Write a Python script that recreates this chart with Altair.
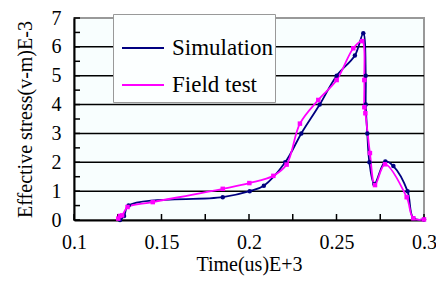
import altair as alt
import pandas as pd

# ---- data ----
series_names = ["Simulation", "Field test"]
series_colors = ["#000080", "#ff00ff"]
series_shapes = ["circle", "square"]

sim_t = [0.1263, 0.1286, 0.1312, 0.185, 0.2004, 0.2085, 0.2207, 0.2299, 0.2404, 0.2501,
         0.2605, 0.2653, 0.2667, 0.2667, 0.2676, 0.2688, 0.2716, 0.2779, 0.2825, 0.2906,
         0.2939, 0.3]
sim_v = [0.0, 0.14, 0.5, 0.79, 1.0, 1.19, 2.0, 3.0, 4.0, 5.0,
         5.7, 6.47, 5.0, 4.0, 3.0, 2.0, 1.25, 2.03, 1.87, 1.0,
         0.06, 0.02]

field_t = [0.1253, 0.1262, 0.1275, 0.1306, 0.145, 0.185, 0.2002, 0.2139, 0.2215, 0.2291,
           0.2396, 0.2501, 0.2596, 0.2647, 0.2659, 0.2659, 0.2665, 0.2691, 0.272, 0.2777,
           0.2901, 0.2939, 0.3]
field_v = [0.05, 0.14, 0.16, 0.45, 0.62, 1.08, 1.28, 1.53, 1.92, 3.34,
           4.16, 4.85, 5.95, 6.2, 4.85, 3.91, 3.7, 2.32, 1.21, 1.93,
           0.79, 0.06, 0.02]

x_label_values = [0.1, 0.15, 0.2, 0.25, 0.3]
x_tick_values = [0.1, 0.125, 0.15, 0.175, 0.2, 0.225, 0.25, 0.275, 0.3]
y_label_values = [0, 1, 2, 3, 4, 5, 6, 7]
y_tick_values = [0, 0.5, 1, 1.5, 2, 2.5, 3, 3.5, 4, 4.5, 5, 5.5, 6, 6.5, 7]
grid_values = [1, 2, 3, 4, 5, 6]

# ---- tables ----
rows = []
for i, (t, v) in enumerate(zip(sim_t, sim_v)):
    rows.append({"t": t, "v": v, "series": series_names[0], "order": i})
for i, (t, v) in enumerate(zip(field_t, field_v)):
    rows.append({"t": t, "v": v, "series": series_names[1], "order": i})
df = pd.DataFrame(rows)

grid_df = pd.DataFrame({"g": grid_values})
ytick_df = pd.DataFrame({"y": y_tick_values})
xtick_df = pd.DataFrame({"x": x_tick_values})

FONT = "Liberation Serif"
W, H = 350, 202

xscale = alt.Scale(domain=[0.1, 0.3], nice=False, zero=False)
yscale = alt.Scale(domain=[0, 7], nice=False)
cscale = alt.Scale(domain=series_names, range=series_colors)

xaxis = alt.Axis(values=x_label_values, format="~g", title="Time(us)E+3",
                 grid=False, ticks=False, labelPadding=12, titlePadding=2,
                 labelOverlap=False, labelFlush=False, domainColor="black", domainWidth=2,
                 labelFont=FONT, labelFontSize=20, titleFont=FONT, titleFontSize=20)
yaxis = alt.Axis(values=y_label_values, format="d", title="Effective stress(v-m)E-3",
                 grid=False, ticks=False, labelPadding=13, titlePadding=16,
                 labelOverlap=False, domainColor="black", domainWidth=2,
                 labelFont=FONT, labelFontSize=20, titleFont=FONT, titleFontSize=20)

X = lambda f: alt.X(f, scale=xscale, axis=xaxis)
Y = lambda f: alt.Y(f, scale=yscale, axis=yaxis)

grid = alt.Chart(grid_df).mark_rule(color="black", strokeWidth=1.5).encode(
    y=Y("g:Q")
)

yticks = alt.Chart(ytick_df).mark_rule(color="black", strokeWidth=1.5).encode(
    y=Y("y:Q"),
    x=alt.value(0),
    x2=alt.value(6),
)

xticks = alt.Chart(xtick_df).mark_rule(color="black", strokeWidth=1.5).encode(
    x=X("x:Q"),
    y=alt.value(H),
    y2=alt.value(H - 6),
)

lines = alt.Chart(df).mark_line(strokeWidth=1.8, interpolate="catmull-rom").encode(
    x=X("t:Q"),
    y=Y("v:Q"),
    color=alt.Color(
        "series:N", scale=cscale,
        legend=alt.Legend(
            orient="none", legendX=39, legendY=-4,
            title=" ", titleFontSize=10, titlePadding=7, titleColor="#fcffff",
            padding=2, symbolType="stroke", symbolSize=1764, symbolStrokeWidth=2,
            symbolOffset=6, labelFont=FONT, labelFontSize=23, labelOffset=7,
            labelColor="black", clipHeight=30, rowPadding=7, labelLimit=300,
            fillColor="#fcffff", strokeColor="#999999",
        ),
    ),
    detail="series:N",
    order="order:Q",
)

point_layers = []
for name, col, shp in zip(series_names, series_colors, series_shapes):
    point_layers.append(
        alt.Chart(df).transform_filter(alt.datum.series == name)
        .mark_point(filled=True, opacity=1, color=col, shape=shp, size=20)
        .encode(x=X("t:Q"), y=Y("v:Q"))
    )

chart = alt.layer(grid, yticks, xticks, lines, *point_layers).properties(
    width=W, height=H,
    autosize=alt.AutoSizeParams(type="none"),
    padding={"left": 66, "top": 10, "right": 12, "bottom": 56},
).configure_view(
    stroke="#999999", strokeWidth=2, fill="#f8fefe"
).configure_axis(
    labelFont=FONT, labelFontSize=20, labelColor="black",
    titleFont=FONT, titleFontSize=20, titleFontWeight="normal", titleColor="black",
).configure_legend(
    labelFont=FONT
)

chart.save("out.html", embed_options={"renderer": "svg", "actions": False})
